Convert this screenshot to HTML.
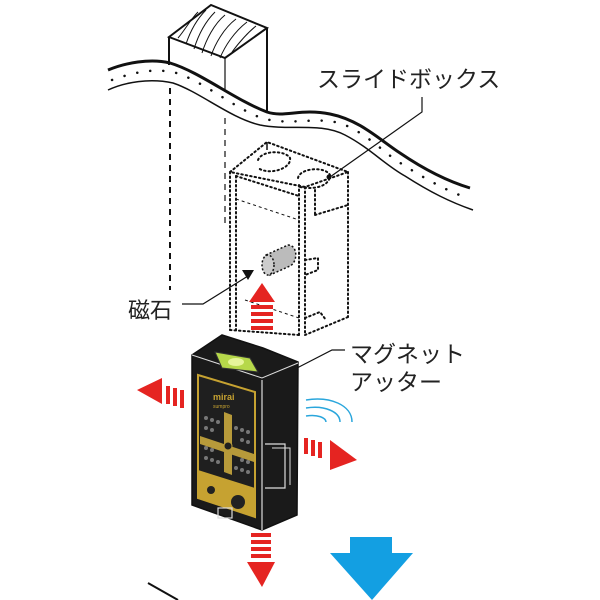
<!DOCTYPE html>
<html><head><meta charset="utf-8"><style>
html,body{margin:0;padding:0;background:#fff;}
svg{display:block}
text{font-family:"Liberation Sans","Noto Sans CJK JP",sans-serif;fill:#222}
</style></head><body>
<svg width="600" height="600" viewBox="0 0 600 600">
<path d="M108,70 C125,63 150,58 170,63 C200,72 235,100 267,112 C285,118 300,108 330,114 C360,120 380,140 400,153 C425,170 450,182 470,188" fill="none" stroke="#111" stroke-width="3"/>
<path d="M108,90 C125,82 150,78 173,83 C200,92 230,118 260,125 C290,131 320,122 345,135 C370,148 385,165 405,176 C430,192 450,202 473,210" fill="none" stroke="#111" stroke-width="1.5"/>
<path d="M112,80 C140,70 160,68 180,74 C210,86 240,112 265,119 C295,126 320,115 345,125 C370,136 385,154 402,164 C430,182 450,192 470,199" fill="none" stroke="#111" stroke-width="2.5" stroke-dasharray="0.1 13" stroke-linecap="round"/>
<polygon points="169,37 211,5 267,28 225,58" fill="#fff" stroke="#111" stroke-width="2"/>
<path d="M178,38 C185,30 190,20 198,12 M186,44 C190,32 196,20 206,10 M194,49 C198,36 205,22 215,12 M202,53 C206,40 214,24 225,15 M211,56 C215,44 224,28 236,19 M220,58 C225,46 234,32 247,22 M232,52 C238,44 246,34 256,26" fill="none" stroke="#111" stroke-width="1"/>
<line x1="169" y1="37" x2="169" y2="65" stroke="#111" stroke-width="2"/>
<line x1="225" y1="58" x2="225" y2="92" stroke="#111" stroke-width="1.2"/>
<line x1="267" y1="28" x2="267" y2="112" stroke="#111" stroke-width="2"/>
<line x1="170" y1="88" x2="170" y2="290" stroke="#111" stroke-width="2" stroke-dasharray="6 5"/>
<line x1="225" y1="118" x2="225" y2="225" stroke="#111" stroke-width="1.2" stroke-dasharray="6 5"/>
<line x1="267" y1="142" x2="267" y2="150" stroke="#111" stroke-width="1.5"/>
<g fill="none" stroke="#111" stroke-width="2" stroke-dasharray="1.5 3" stroke-linecap="round">
<polygon points="230,172 267,142 348,172 305,187"/>
<line x1="230" y1="172" x2="230" y2="330"/>
<line x1="236" y1="176" x2="236" y2="330"/>
<line x1="305" y1="187" x2="305" y2="335"/>
<line x1="299" y1="185" x2="299" y2="335"/>
<line x1="348" y1="172" x2="348" y2="317"/>
<line x1="236" y1="176" x2="299" y2="196"/>
<line x1="305" y1="335" x2="348" y2="317"/>
<line x1="230" y1="330" x2="299" y2="335"/>
<path d="M258,160 C262,150 285,150 290,158 C292,168 270,176 258,168"/>
<path d="M298,178 C300,168 325,166 330,175 C330,186 315,190 300,187"/>
<line x1="315" y1="190" x2="315" y2="215"/>
<line x1="315" y1="215" x2="348" y2="205"/>
<path d="M305,260 L318,258 L318,270 L305,275"/>
<path d="M305,318 L320,312 L326,320"/>
</g>
<line x1="236" y1="199" x2="299" y2="220" stroke="#111" stroke-width="1" stroke-dasharray="3 3"/>
<line x1="245" y1="300" x2="299" y2="318" stroke="#111" stroke-width="1" stroke-dasharray="3 3"/>
<path d="M266,255 L288,245 C298,245 298,262 290,266 L270,275 Z" fill="#bbb" stroke="#111" stroke-width="1.5" stroke-dasharray="2 2"/>
<ellipse cx="268" cy="265" rx="6" ry="10" fill="#ccc" stroke="#111" stroke-width="1.5" stroke-dasharray="2 2"/>
<polygon points="242,270 254,270 248,280" fill="#111"/>
<path d="M182,304 L203,304 L248,276" fill="none" stroke="#111" stroke-width="1.2"/>
<text x="128" y="318" font-size="22">磁石</text>
<text x="317" y="87" font-size="23">スライドボックス</text>
<path d="M422,97 L422,112 L330,177" fill="none" stroke="#111" stroke-width="1.2"/>
<circle cx="329" cy="177" r="2.5" fill="#111"/>
<text x="350" y="362" font-size="23">マグネット</text>
<text x="350" y="390" font-size="23">アッター</text>
<path d="M345,350 L332,350 L297,368" fill="none" stroke="#111" stroke-width="1.2"/>
<polygon points="262,283 249,302 275,302" fill="#e52421"/>
<g fill="#e52421"><rect x="251" y="305" width="22" height="4"/><rect x="251" y="312" width="22" height="4"/><rect x="251" y="319" width="22" height="4"/><rect x="251" y="326" width="22" height="4"/></g>
<polygon points="192,355 222,335 263,348 298,362 297,515 262,530 192,505" fill="#1a1a1a" stroke="#111" stroke-width="1.5"/>
<line x1="262" y1="380" x2="262" y2="530" stroke="#ddd" stroke-width="1.2"/>
<polyline points="192,355 262,378 298,363" fill="none" stroke="#ddd" stroke-width="1"/>
<polyline points="265,444 285,444 285,488 265,488" fill="none" stroke="#ddd" stroke-width="1.2"/>
<polyline points="272,448 290,448 290,485" fill="none" stroke="#ddd" stroke-width="1"/>
<polygon points="215,352 250,358 258,372 222,368" fill="#b6d84a" stroke="#333" stroke-width="1"/>
<ellipse cx="236" cy="362" rx="8" ry="4" fill="#e6f59a"/>
<polygon points="198,375 255,392 255,517 198,498" fill="#1f1f1f" stroke="#c6a231" stroke-width="2"/>
<polygon points="198,470 255,488 255,517 198,498" fill="#c6a231"/>
<text x="213" y="400" font-size="9" style="fill:#c6a231" font-weight="bold">mirai</text>
<text x="213" y="408" font-size="5" style="fill:#c6a231">sumpro</text>
<g fill="#777">
<circle cx="206" cy="418" r="2"/><circle cx="212" cy="420" r="2"/><circle cx="218" cy="422" r="2"/><circle cx="236" cy="428" r="2"/><circle cx="242" cy="430" r="2"/><circle cx="248" cy="432" r="2"/>
<circle cx="206" cy="428" r="2"/><circle cx="212" cy="430" r="2"/><circle cx="242" cy="440" r="2"/><circle cx="248" cy="442" r="2"/>
<circle cx="206" cy="448" r="2"/><circle cx="212" cy="450" r="2"/><circle cx="242" cy="460" r="2"/><circle cx="248" cy="462" r="2"/>
<circle cx="206" cy="458" r="2"/><circle cx="212" cy="460" r="2"/><circle cx="218" cy="462" r="2"/><circle cx="236" cy="468" r="2"/><circle cx="242" cy="470" r="2"/><circle cx="248" cy="472" r="2"/>
</g>
<path d="M224,412 L232,415 L232,475 L224,472 Z M200,436 L254,454 L254,462 L200,444 Z" fill="#b79a3a"/>
<circle cx="228" cy="446" r="4" fill="#1f1f1f" stroke="#b79a3a"/>
<circle cx="211" cy="490" r="4" fill="#222"/>
<circle cx="238" cy="502" r="7" fill="#222"/>
<rect x="218" y="508" width="14" height="10" fill="none" stroke="#ddd" stroke-width="1.2"/>
<polygon points="137,390 162,378 162,404" fill="#e52421"/>
<g fill="#e52421"><rect x="166" y="386" width="4" height="18"/><rect x="173" y="388" width="4" height="18"/><rect x="180" y="390" width="4" height="18"/></g>
<g fill="#e52421"><rect x="304" y="438" width="4" height="16"/><rect x="311" y="440" width="4" height="16"/><rect x="318" y="442" width="4" height="16"/></g>
<polygon points="330,440 357,460 330,470" fill="#e52421"/>
<g fill="none" stroke="#2aa6dc" stroke-width="1.5">
<path d="M306,400 C330,396 352,405 352,422"/>
<path d="M306,408 C325,405 340,412 340,422"/>
<path d="M306,416 C318,414 326,418 326,422"/>
</g>
<g fill="#e52421"><rect x="251" y="533" width="20" height="4"/><rect x="251" y="540" width="20" height="4"/><rect x="251" y="547" width="20" height="4"/><rect x="251" y="554" width="20" height="4"/></g>
<polygon points="247,562 275,562 262,587" fill="#e52421"/>
<polygon points="350,537 392,537 392,553 413,553 372,600 330,553 350,553" fill="#139fe2"/>
<line x1="148" y1="583" x2="178" y2="600" stroke="#111" stroke-width="2"/>
</svg>
</body></html>
